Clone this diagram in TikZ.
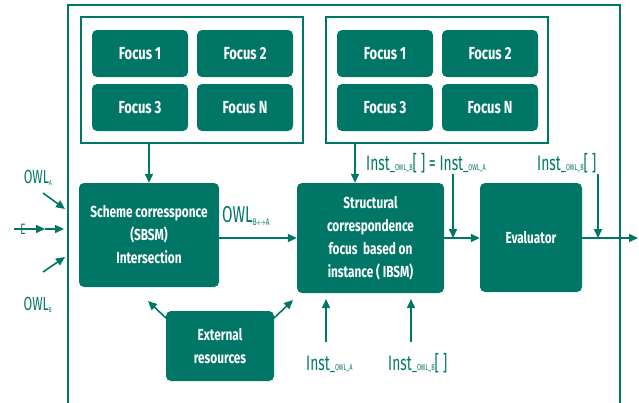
\documentclass[tikz,border=0pt]{standalone}
\usepackage{fontspec}
\setmainfont{Fira Sans}[FakeStretch=0.74]
\newfontfamily\lblfont{Fira Sans}[FakeStretch=0.66]
\usetikzlibrary{arrows.meta}
\definecolor{owlgreen}{RGB}{0,119,102}

% Inst label with its OWL subscript
\newcommand\instlbl[1]{Inst{\fontsize{15}{15}\selectfont\_}{\fontsize{8.5}{9}\selectfont OWL\_#1}}

\tikzset{
  box/.style={fill=owlgreen, rounded corners=5pt, text=white, font=\bfseries\fontsize{16}{23}\selectfont,
              align=center, inner sep=0pt},
  focusbox/.style={box, minimum width=96pt, minimum height=47pt, font=\bfseries\fontsize{17.5}{18}\selectfont},
  group/.style={draw=owlgreen, line width=1.6pt, minimum width=222pt, minimum height=126pt, inner sep=0pt},
  arr/.style={draw=owlgreen, line width=1.6pt, -{Triangle[length=9pt,width=8pt]}},
  lbl/.style={text=owlgreen, inner sep=0pt, font=\lblfont\fontsize{21}{22}\selectfont},
}

\begin{document}
\begin{tikzpicture}[x=1pt,y=-1pt]
\useasboundingbox (0,0) rectangle (639,402);

% outer frame, open at the bottom
\draw[owlgreen, line width=1.6pt] (68,403) -- (68,5) -- (620,5) -- (620,403);

% the two groups of focuses
\node[group] (lg) at (192,80) {};
\node[group] (rg) at (437,80) {};
\node[focusbox] (lf1) at (140,53.5) {Focus 1};
\node[focusbox] (lf2) at (245,53.5) {Focus 2};
\node[focusbox] (lf3) at (140,107.5) {Focus 3};
\node[focusbox] (lfn) at (245,107.5) {Focus N};
\node[focusbox] (rf1) at (385,53.5) {Focus 1};
\node[focusbox] (rf2) at (490,53.5) {Focus 2};
\node[focusbox] (rf3) at (385,107.5) {Focus 3};
\node[focusbox] (rfn) at (490,107.5) {Focus N};

% processing blocks
\node[box, minimum width=140pt, minimum height=104pt] (sbsm) at (149,235)
  {Scheme corressponce\\(SBSM)\\Intersection};
\node[box, minimum width=147pt, minimum height=110pt] (ibsm) at (370.5,238)
  {Structural\\correspondence\\focus\ \ based on\\instance ( IBSM)};
\node[box, minimum width=102pt, minimum height=109pt] (eval) at (531,237.5) {Evaluator};
\node[box, minimum width=108pt, minimum height=70pt] (ext) at (220,346) {External\\resources};

% inputs on the left
\node[lbl, font=\lblfont\fontsize{19}{20}\selectfont] (owla) at (38,178) {OWL\textsubscript{\fontsize{7}{7}\selectfont A}};
\node[lbl, font=\lblfont\fontsize{19}{20}\selectfont] (owlb) at (38,305) {OWL\textsubscript{\fontsize{7}{7}\selectfont B}};
\node[lbl, font=\lblfont\fontsize{15}{16}\selectfont] (e) at (23,229) {E};
\coordinate (ina0) at (43,193);  \coordinate (ina1) at (65,209);
\coordinate (ine0) at (14,229);  \coordinate (inem) at (45,229); \coordinate (ine1) at (64,229);
\coordinate (inb0) at (43,272);  \coordinate (inb1) at (65,257);
\draw[arr] (ina0) -- (ina1);
\draw[arr] (ine0) -- (inem);
\draw[arr] (inem) -- (ine1);
\draw[arr] (inb0) -- (inb1);

% focus groups feed the blocks below them
\coordinate (rx) at (355,0);
\draw[arr] (lg.south -| sbsm.north) -- (sbsm.north);
\draw[arr] (rg.south -| rx) -- (ibsm.north -| rx);

% main flow
\node[lbl, anchor=base west, font=\lblfont\fontsize{23}{24}\selectfont] (owlba) at (222,222)
  {OWL\textsubscript{\fontsize{9.5}{10}\selectfont B\ensuremath{\leftrightarrow}A}};
\draw[arr] (sbsm.east |- ibsm.west) -- (ibsm.west);
\draw[arr] (ibsm.east) -- (ibsm.east -| eval.west);
\coordinate (out) at (638,238);
\draw[arr] (eval.east |- ibsm.east) -- (out);

% instance inputs
\node[lbl, anchor=base west] (insttop) at (366,170) {\instlbl{B}[ ] = \instlbl{A}};
\node[lbl, anchor=base west] (instev) at (537,170) {\instlbl{B}[ ]};
\coordinate (d1a) at (453,174); \coordinate (d1b) at (453,238);
\coordinate (d2a) at (598,174); \coordinate (d2b) at (598,238);
\draw[arr] (d1a) -- (d1b);
\draw[arr] (d2a) -- (d2b);

\node[lbl, anchor=base west] (insta) at (306,370) {\instlbl{A}};
\node[lbl, anchor=base west] (instb) at (388,370) {\instlbl{B}[ ]};
\coordinate (u1a) at (326,342); \coordinate (u1b) at (326,299);
\coordinate (u2a) at (411,342); \coordinate (u2b) at (411,299);
\draw[arr] (u1a) -- (u1b);
\draw[arr] (u2a) -- (u2b);

% external resources serve both matchers
\coordinate (ex1) at (148,301); \coordinate (ex2) at (293,300);
\draw[arr] (ext.north west) ++(1,8) -- (ex1);
\draw[arr] (ext.north east) ++(-1,8) -- (ex2);
\end{tikzpicture}
\end{document}
